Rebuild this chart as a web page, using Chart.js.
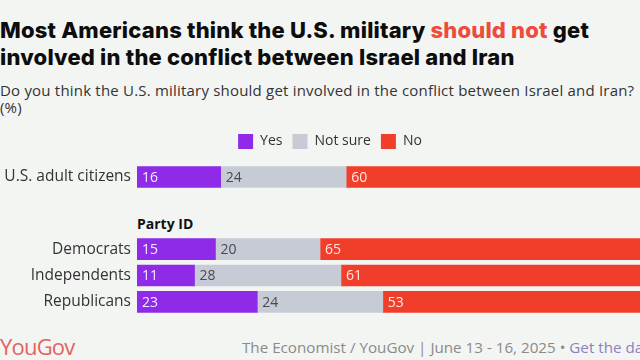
<!DOCTYPE html>
<html>
<head>
<meta charset="utf-8">
<script src="https://cdn.jsdelivr.net/npm/chart.js@4.4.1/dist/chart.umd.min.js"></script>
<style>
  html, body { margin:0; padding:0; width:640px; height:360px; overflow:hidden; background:#f3f5f3; }
  body { position:relative; font-family: "Open Sans", Roboto, sans-serif; }
  #title { position:absolute; left:0; top:17px; font-family: Inter, sans-serif; font-weight:800; font-size:22px; line-height:26.5px; color:#0d0d0d; letter-spacing:0.2px; white-space:nowrap; }
  #title .hl { color:#ef4b3c; }
  #sub { position:absolute; left:0; top:82px; font-size:15px; line-height:17px; color:#333; letter-spacing:0.2px; white-space:nowrap; }
  #party { position:absolute; left:137px; top:214px; font-weight:700; font-size:14px; color:#111; }
  #wa { position:absolute; left:0; top:124px; width:660px; height:71px; }
  #wb { position:absolute; left:0; top:236px; width:660px; height:79px; }
  #logo { position:absolute; left:0; top:331px; font-size:22px; font-weight:500; color:#e2635f; letter-spacing:-0.8px; }
  #foot { position:absolute; left:242px; top:337px; font-size:15.2px; color:#8a8a8a; white-space:nowrap; }
  #foot .lk { color:#8d7fc4; }
</style>
</head>
<body>
<div id="title">Most Americans think the U.S. military <span class="hl">should not</span> get<br>involved in the conflict between Israel and Iran</div>
<div id="sub">Do you think the U.S. military should get involved in the conflict between Israel and Iran?<br>(%)</div>
<div id="wa"><canvas id="ca" width="660" height="71"></canvas></div>
<div id="party">Party ID</div>
<div id="wb"><canvas id="cb" width="660" height="79"></canvas></div>
<div id="logo">YouGov</div>
<div id="foot">The Economist / YouGov | June 13 - 16, 2025 • <span class="lk">Get the data</span></div>
<script>
// ---- data ----
const seriesNames = ["Yes", "Not sure", "No"];
const overallCategories = ["U.S. adult citizens"];
const overallYes = [16];
const overallNotSure = [24];
const overallNo = [60];
const partyCategories = ["Democrats", "Independents", "Republicans"];
const partyYes = [15, 11, 23];
const partyNotSure = [20, 28, 24];
const partyNo = [65, 61, 53];

const colors = ["#8e2ae8", "#c7cbd6", "#f13e2b"];
const labelColors = ["#f6ecff", "#4a4a4a", "#fde9e4"];
const FONT = '"Open Sans", Roboto, sans-serif';

const valueLabels = {
  id: 'valueLabels',
  afterDatasetsDraw(chart) {
    const ctx = chart.ctx;
    ctx.save();
    ctx.font = '14px ' + FONT;
    ctx.textBaseline = 'middle';
    ctx.textAlign = 'left';
    chart.data.datasets.forEach((ds, di) => {
      const meta = chart.getDatasetMeta(di);
      meta.data.forEach((el, i) => {
        const p = el.getProps(['x', 'y', 'base'], true);
        const left = Math.min(p.x, p.base);
        ctx.fillStyle = labelColors[di];
        ctx.fillText(String(ds.data[i]), left + 5, p.y + 1);
      });
    });
    ctx.restore();
  }
};

function makeDatasets(yes, ns, no) {
  return [yes, ns, no].map((d, i) => ({
    label: seriesNames[i], data: d, backgroundColor: colors[i], borderWidth: 0, barThickness: 21
  }));
}

function makeOptions(showLegend) {
  return {
    indexAxis: 'y', responsive: false, animation: false, maintainAspectRatio: false,
    layout: { padding: 0, autoPadding: false },
    plugins: {
      legend: { display: showLegend, position: 'top',
        labels: { boxWidth: 15, boxHeight: 15, padding: 10, color: '#333', font: { family: FONT, size: 14 } } },
      tooltip: { enabled: false }
    },
    scales: {
      x: { stacked: true, min: 0, max: 100, display: false },
      y: { stacked: true, grid: { display: false, drawTicks: false }, border: { display: false },
        ticks: { padding: 6, color: '#333', font: { family: FONT, size: 15.5 } },
        afterFit(scale) { scale.width = 137; scale.paddingTop = 0; scale.paddingBottom = 0; } }
    }
  };
}

new Chart(document.getElementById('ca'), {
  type: 'bar',
  data: { labels: overallCategories, datasets: makeDatasets(overallYes, overallNotSure, overallNo) },
  options: makeOptions(true), plugins: [valueLabels]
});
new Chart(document.getElementById('cb'), {
  type: 'bar',
  data: { labels: partyCategories, datasets: makeDatasets(partyYes, partyNotSure, partyNo) },
  options: makeOptions(false), plugins: [valueLabels]
});
</script>
</body>
</html>
